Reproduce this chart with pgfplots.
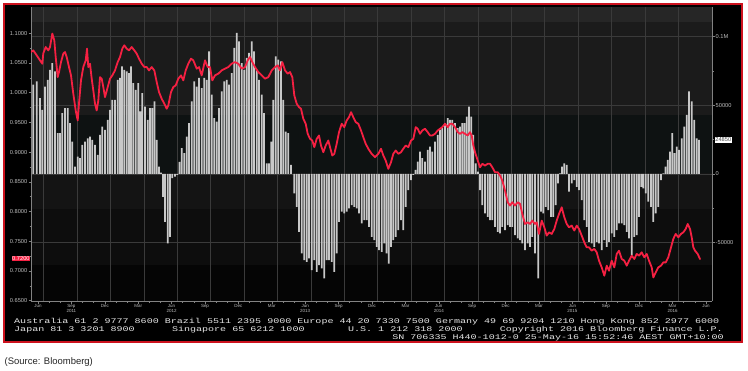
\documentclass[border=0pt]{standalone}
\usepackage{pgfplots}
\pgfplotsset{compat=1.18}
\usepackage{pgfplotstable}
\usepackage{fontspec}
\setmainfont{Liberation Sans}
\newfontfamily\bbg[FakeStretch=1.4]{Liberation Mono}
\definecolor{bbred}{RGB}{205,18,30}
\definecolor{audred}{RGB}{245,32,66}
\definecolor{bargrey}{RGB}{200,200,200}
\definecolor{gridgrey}{RGB}{58,58,58}
\definecolor{labgrey}{RGB}{190,190,190}
\definecolor{axisgrey}{RGB}{130,130,130}
\definecolor{bandA}{RGB}{38,38,38}
\definecolor{bandB}{RGB}{27,27,27}
\definecolor{bandC}{RGB}{14,18,18}
\definecolor{bandD}{RGB}{20,20,20}
\definecolor{bandE}{RGB}{13,13,13}
\definecolor{bandF}{RGB}{5,5,5}
\definecolor{foot}{RGB}{230,230,230}

% CFTC net positioning, thousands of contracts (x = position on time scale)
\pgfplotstableread{
px k
33.3 65.0
36.7 67.4
40 55.3
42.3 46.7
45 63.7
47.7 68.6
50 75.9
52.3 80.8
55 74.7
57.7 29.7
60 29.7
62.3 44.3
65 48.0
67.7 48.0
70 37.0
72.3 23.6
75 5.3
77.7 12.6
80 11.5
82.3 21.2
85 23.6
87.7 26.0
90 27.2
92.3 24.8
95 21.2
97.7 13.9
100 28.5
102.3 34.5
105 32.1
107.7 39.4
110 46.7
112.3 54.0
115 54.0
117.7 68.6
120 69.9
122 78.3
124.3 75.9
126.7 74.7
129 73.5
131 78.3
133.3 66.2
135.7 61.3
138.3 66.2
140.3 45.5
142.3 58.9
145 49.1
147.7 39.4
150 48.0
152.3 48.0
154.5 52.8
156.7 24.8
159 5.3
161 1.0
163 -16.6
165 -34.8
167.7 -50.6
170 -45.8
172.3 -3.1
175 -2.0
177.3 -0.7
179.5 8.8
181.7 18.8
184.3 15.1
186.7 27.2
189 37.0
191.7 52.8
194.3 67.4
196.7 63.7
199 69.9
201.7 62.6
204.3 69.9
206.7 68.6
209 89.3
211.7 57.7
214.3 40.7
216.7 38.2
219 48.0
221.7 60.1
224.3 67.4
226.7 68.6
229 65.0
231.7 73.5
234.3 91.8
236.7 102.7
239 96.6
241.7 80.8
244.3 75.9
246.7 84.5
249 88.1
251.7 96.6
254 89.3
256.7 75.9
259 68.6
261.7 57.7
264 44.3
266.7 7.8
269 7.8
271.2 23.6
273.3 54.0
275.7 85.6
278.3 83.2
281 82.0
283.3 54.0
285.7 30.9
288.3 29.7
291 6.6
294.3 -14.1
296.7 -23.9
299 -42.1
301.7 -57.9
304.3 -62.8
306.7 -64.0
309 -61.5
311.7 -70.1
314.3 -62.8
316.7 -71.3
319 -66.4
321.7 -68.8
324.3 -76.1
326.7 -62.8
329 -62.8
331.7 -64.0
334.3 -71.3
336.7 -57.9
339 -34.8
341.7 -27.5
344.3 -28.7
346.7 -27.5
349 -25.0
351.7 -22.6
354.3 -23.9
356.7 -25.0
359 -28.7
361.7 -36.0
364.3 -33.6
366.7 -33.6
369 -38.5
371.7 -45.8
374.3 -48.2
376.7 -53.1
379 -55.5
381.7 -56.7
384.3 -50.6
386.5 -57.9
388.7 -65.2
391 -53.1
393.3 -48.2
395.7 -45.8
398.3 -40.9
401 -33.6
403.3 -40.9
405.7 -23.9
408.3 -11.7
411 -4.4
413.3 -0.7
415.5 2.9
417.7 9.0
420 16.3
422.3 11.5
425 9.0
427.7 17.5
430 19.9
432.3 16.3
435 23.6
437.7 28.5
440 32.1
442.3 33.4
445 37.0
447.7 40.7
450 39.4
452.3 39.4
455 37.0
457.7 33.4
460 34.5
462.3 37.0
464.5 37.0
466.7 41.8
469 49.1
471.2 41.8
473.3 28.5
475.7 7.8
477.9 1.7
480 -11.7
482.3 -22.6
485 -28.7
487.7 -31.2
490 -33.6
492.3 -33.6
495 -38.5
497.7 -42.1
500 -43.3
502.3 -38.5
505 -40.9
507.7 -37.2
510 -38.5
512.3 -38.5
515 -44.5
517.7 -46.9
520 -48.2
522.3 -50.6
525 -55.5
527.7 -50.6
530 -53.1
532.3 -45.8
535 -57.9
538.3 -76.1
541 -27.5
543.3 -28.7
545.7 -23.9
548.3 -26.3
551 -31.2
553.3 -31.2
555.7 -22.6
557.9 -6.8
560 0.5
562 5.3
564.3 7.8
566.7 6.6
569 -12.9
571.7 -6.8
574.3 -4.4
576.7 -9.3
579 -11.7
581.7 -19.0
584.3 -33.6
586.7 -38.5
589 -49.4
591.7 -50.6
594.3 -53.1
596.7 -49.4
599 -50.6
601.7 -55.5
604.3 -48.2
606.7 -53.1
609 -49.4
611.7 -43.3
614.3 -45.8
616.7 -40.9
619 -36.0
621.7 -36.0
624.3 -37.2
626.7 -42.1
629 -46.9
631.7 -59.1
634.3 -45.8
636.7 -44.5
639 -31.2
641.2 -9.3
643.3 -10.4
645.7 -14.1
648.3 -20.2
651 -23.9
653.3 -34.8
655.7 -28.7
658.3 -23.9
661 -4.4
663.3 0.5
665.5 5.3
667.7 10.2
670 16.3
672.3 29.7
674.5 15.1
676.7 19.9
679 17.5
681.7 26.0
684.3 34.5
686.7 43.1
689 60.1
691.7 52.8
694.3 39.4
696.7 26.0
699 24.85
}\cftc

% AUD/USD
\pgfplotstableread{
px v
31 1.0685
33.3 1.0713
36.7 1.0629
40 1.0545
42.3 1.0489
43.3 1.0663
45.7 1.0769
48.3 1.0713
50 1.0769
52.3 1.0995
54.3 1.0882
55.7 1.0601
57.7 1.0263
59 1.0348
61 1.0516
63.3 1.0658
65 1.0685
66.7 1.0601
69 1.0432
71 1.0292
73.3 0.9984
75.7 0.9702
77.7 0.9534
79 0.9820
81 1.0208
83.3 1.0432
85.7 1.0545
87 1.0742
88.3 1.0432
90 1.0489
91.7 1.0236
93.3 1.0039
95 0.9815
96.7 0.9702
98.3 0.9871
100 1.0263
101.7 1.0236
103.3 1.0095
105 0.9926
107.7 1.0095
110 1.0236
112.3 1.0292
115 1.0376
117.7 1.0516
120 1.0601
122.3 1.0742
124.3 1.0798
126.7 1.0742
129 1.0713
131.7 1.0769
134.3 1.0713
136.7 1.0658
139 1.0574
141.7 1.0489
144.3 1.0432
146.7 1.0432
149 1.0376
151.7 1.0432
154.3 1.0376
156.7 1.0179
159 1.0011
161.7 0.9899
164.3 0.9815
166.7 0.9731
168.3 0.9786
171 1.0011
173.3 1.0095
175.7 1.0124
178.3 1.0236
181 1.0292
183.3 1.0208
185.7 1.0376
188.3 1.0489
191 1.0574
193.3 1.0545
196.7 1.0405
199 1.0432
201.7 1.0292
205 1.0545
207.7 1.0432
210 1.0432
212.3 1.0208
215 1.0292
218.3 1.0321
221.7 1.0376
225 1.0405
228.3 1.0432
231.7 1.0489
235 1.0516
238.3 1.0489
241.7 1.0405
245 1.0432
247.7 1.0545
250 1.0601
252.3 1.0516
255 1.0432
258.3 1.0348
261.7 1.0292
265 1.0236
268.3 1.0263
271.7 1.0376
275 1.0432
277.7 1.0461
280 1.0376
282.3 1.0516
285 1.0376
287.7 1.0321
290 1.0348
292.3 1.0263
294.3 0.9955
296.7 0.9815
299 0.9758
301 0.9731
303.3 0.9562
305.7 0.9478
307.7 0.9309
310 0.9225
312.3 0.9196
314.3 0.9084
316.7 0.9225
319 0.9281
321 0.9112
323.3 0.8999
325.7 0.9112
328.3 0.9196
330 0.9084
332.3 0.8944
334.3 0.8972
336.7 0.9141
339 0.9336
341.7 0.9478
344.3 0.9421
346.7 0.9534
349 0.9589
351 0.9673
353.3 0.9589
355.7 0.9505
358.3 0.9478
361 0.9365
363.3 0.9252
365.7 0.9141
368.3 0.9057
371.7 0.8972
375 0.8915
378.3 0.8972
381 0.9057
383.3 0.8944
385.7 0.8859
388.3 0.8719
391 0.8831
393.3 0.8972
395.7 0.9028
398.3 0.8972
401 0.8999
403.3 0.9057
405.7 0.9112
408.3 0.9084
411 0.9196
413.3 0.9225
415.7 0.9421
417.7 0.9394
420 0.9309
422.3 0.9365
425 0.9394
427.7 0.9336
430 0.9281
432.3 0.9281
435 0.9309
437.7 0.9365
440 0.9394
442.3 0.9421
445 0.9478
447.7 0.9421
450 0.9478
452.3 0.9478
455 0.9421
457.7 0.9336
460 0.9309
462.3 0.9336
465 0.9309
467.7 0.9281
470 0.9336
471.7 0.9281
473.3 0.9112
475 0.8999
477.7 0.8859
480 0.8746
482.3 0.8804
485 0.8775
487.7 0.8804
490 0.8804
492.3 0.8746
495 0.8662
497.7 0.8662
500 0.8607
502.3 0.8522
505 0.8354
507.7 0.8157
510 0.8101
512.3 0.8157
515 0.8101
517.7 0.8157
520 0.8130
522.3 0.7961
525 0.7792
527.7 0.7819
530 0.7792
532.3 0.7848
535 0.7792
536.7 0.7819
539 0.7624
541.7 0.7848
544.3 0.7735
546.7 0.7595
549 0.7651
551.7 0.7624
554.3 0.7708
556.7 0.7848
559 0.7961
561.7 0.8072
564.3 0.7904
566.7 0.7792
569 0.7735
571.7 0.7764
574.3 0.7680
576.7 0.7764
579 0.7708
581.7 0.7595
584.3 0.7482
586.7 0.7398
589 0.7398
591.7 0.7342
594.3 0.7371
596.7 0.7314
599 0.7174
601.7 0.7061
604.3 0.6921
606.7 0.7090
609 0.7005
611.7 0.7174
614.3 0.7061
616.7 0.7287
619 0.7342
621.7 0.7203
624.3 0.7174
626.7 0.7090
629 0.7174
631.7 0.7258
634.3 0.7203
636.7 0.7287
639 0.7258
641.7 0.7314
644.3 0.7230
646.7 0.7287
649 0.7174
651.7 0.7061
653.3 0.6892
655.7 0.6977
658.3 0.7061
661 0.7090
663.3 0.7145
665.7 0.7145
668.3 0.7230
671 0.7398
673.3 0.7540
675.7 0.7624
678.3 0.7567
681 0.7624
683.3 0.7651
685.7 0.7708
687.7 0.7792
690 0.7708
691.7 0.7567
693.3 0.7398
695 0.7342
697.7 0.7287
700 0.7200
}\aud

\begin{document}
\begin{tikzpicture}[x=1bp,y=1bp]
\path[use as bounding box] (0,0) rectangle (748,370);
\fill[white] (0,0) rectangle (748,370);
\fill[black] (4,28) rectangle (742,366);
% plot background bands
\fill[bandA] (31,348) rectangle (712,363);
\fill[bandB] (31,255) rectangle (712,348);
\fill[bandC] (31,197) rectangle (712,255);
\fill[bandD] (31,161) rectangle (712,197);
\fill[bandE] (31,105) rectangle (712,161);
\fill[bandF] (31,69) rectangle (712,105);

\begin{axis}[
  at={(31bp,69bp)}, anchor=south west,
  width=681bp, height=294bp, scale only axis,
  xmin=4.371, xmax=65.54, ymin=-92.5, ymax=121.6,
  axis x line*=bottom, axis y line*=right,
  every outer x axis line/.append style={-},
  every outer y axis line/.append style={-},
  axis line style={draw=axisgrey, line width=0.6bp},
  xtick={5,8,...,65},
  xticklabels={Jun,{Sep\\2011},Dec,Mar,{Jun\\2012},Sep,Dec,Mar,{Jun\\2013},Sep,Dec,Mar,{Jun\\2014},Sep,Dec,Mar,{Jun\\2015},Sep,Dec,{Mar\\2016},Jun},
  xticklabel style={font=\fontsize{4.5}{4.8}\selectfont, text=labgrey, align=center, inner sep=0.6bp},
  minor x tick num=2,
  extra x ticks={5.5,8.5,11.5,14.5,17.5,20.5,23.5,26.5,29.5,32.5,35.5,38.5,41.5,44.5,47.5,50.5,53.5,56.5,59.5,62.5},
  extra x tick labels={},
  extra x tick style={xmajorgrids=true, major tick length=0pt},
  ytick={-50,0,50,100},
  yticklabels={-50000,0,50000,0.1M},
  minor y tick num=1,
  yticklabel style={font=\fontsize{5.7}{6}\selectfont, text=labgrey, inner sep=1bp},
  ymajorgrids=true,
  major grid style={draw=gridgrey, line width=0.5bp},
  tick style={draw=axisgrey, line width=0.5bp},
  major tick length=2.5bp, minor tick length=1.5bp,
  tick align=outside,
]
\addplot[ybar, bar width=1.7bp, fill=bargrey, draw=none]
  table[x expr={5+(\thisrow{px}-38)/11.133}, y=k] {\cftc};
\end{axis}

\begin{axis}[
  at={(31bp,69bp)}, anchor=south west,
  width=681bp, height=294bp, scale only axis,
  xmin=4.371, xmax=65.54, ymin=0.6495, ymax=1.1443,
  axis x line=none, axis y line*=left,
  every outer y axis line/.append style={-},
  axis line style={draw=axisgrey, line width=0.6bp},
  ytick={0.65,0.7,0.75,0.8,0.85,0.9,0.95,1.0,1.05,1.1},
  yticklabels={0.6500,0.7000,0.7500,0.8000,0.8500,0.9000,0.9500,1.0000,1.0500,1.1000},
  minor y tick num=1,
  yticklabel style={font=\fontsize{5.7}{6}\selectfont, text=labgrey, inner sep=1bp},
  tick style={draw=axisgrey, line width=0.5bp},
  major tick length=2.5bp, minor tick length=1.5bp,
  tick align=outside,
]
\addplot[audred, line width=1.8bp, line join=round, line cap=round]
  table[x expr={5+(\thisrow{px}-38)/11.133}, y=v] {\aud};
\end{axis}

% last-value tags
\node[anchor=east, fill=audred, text=white, inner sep=0.7bp, font=\fontsize{5.7}{6}\selectfont] at (30.5,111.5) {0.7200};
\node[anchor=west, fill=white, text=black!70, inner sep=0.7bp, font=\fontsize{5.7}{6}\selectfont] at (714.5,230) {24850};

% footer
\begin{scope}[every node/.style={inner sep=0pt, text=foot, font=\bbg\fontsize{7.2}{7.5}\selectfont}]
\node[anchor=base west] at (14,47) {Australia 61 2 9777 8600 Brazil 5511 2395 9000 Europe 44 20 7330 7500 Germany 49 69 9204 1210 Hong Kong 852 2977 6000};
\node[anchor=base west] at (14,39) {Japan 81 3 3201 8900};
\node[anchor=base west] at (171.8,39) {Singapore 65 6212 1000};
\node[anchor=base west] at (347.9,39) {U.S. 1 212 318 2000};
\node[anchor=base west] at (499.6,39) {Copyright 2016 Bloomberg Finance L.P.};
\node[anchor=base east] at (724,31) {SN 706335 H440-1012-0 25-May-16 15:52:46 AEST GMT+10:00};
\end{scope}

\draw[bbred, line width=2.2bp] (4,28) rectangle (742,366);

\node[anchor=west, inner sep=0pt, text=black!85, font=\fontsize{9.5}{10}\selectfont] at (4.5,8) {(Source: Bloomberg)};
\end{tikzpicture}
\end{document}
